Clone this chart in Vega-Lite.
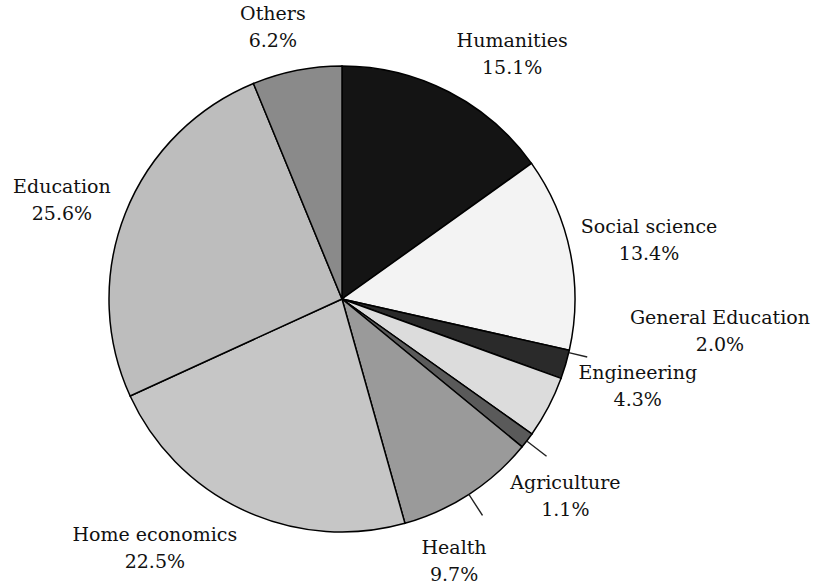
{
  "$schema": "https://vega.github.io/schema/vega-lite/v6.json",
  "autosize": "none",
  "width": 684,
  "height": 574,
  "padding": {"left": 0, "top": 12, "right": 135, "bottom": 0},
  "background": "white",
  "config": {"view": {"stroke": null}},
  "data": {
    "values": [
      {"subject": "Humanities", "share": 15.1},
      {"subject": "Social science", "share": 13.4},
      {"subject": "General Education", "share": 2.0},
      {"subject": "Engineering", "share": 4.3},
      {"subject": "Agriculture", "share": 1.1},
      {"subject": "Health", "share": 9.7},
      {"subject": "Home economics", "share": 22.5},
      {"subject": "Education", "share": 25.6},
      {"subject": "Others", "share": 6.2}
    ]
  },
  "transform": [
    {"window": [{"op": "row_number", "as": "rank"}]},
    {"window": [{"op": "sum", "field": "share", "as": "cum"}], "sort": [{"field": "rank"}], "frame": [null, 0]},
    {"joinaggregate": [{"op": "sum", "field": "share", "as": "total"}]},
    {"calculate": "(datum.cum - datum.share) / datum.total", "as": "start"},
    {"calculate": "datum.cum / datum.total", "as": "end"},
    {"calculate": "(datum.cum - datum.share / 2) / datum.total", "as": "mid"},
    {"calculate": "datum.mid + 0.0009", "as": "mid2"},
    {"calculate": "datum.subject + '\\n' + format(datum.share, '.1f') + '%'", "as": "label"}
  ],
  "encoding": {
    "theta": {"field": "mid", "type": "quantitative", "scale": {"domain": [0, 1], "range": [0, 6.283185307179586]}}
  },
  "layer": [
    {
      "mark": {"type": "arc", "outerRadius": 233, "stroke": "#000", "strokeWidth": 1.5},
      "encoding": {
        "theta": {"field": "start", "type": "quantitative"},
        "theta2": {"field": "end"},
        "color": {
          "field": "subject",
          "type": "nominal",
          "legend": null,
          "scale": {
            "domain": ["Humanities", "Social science", "General Education", "Engineering", "Agriculture", "Health", "Home economics", "Education", "Others"],
            "range": ["#141414", "#f3f3f3", "#2a2a2a", "#dcdcdc", "#5a5a5a", "#9a9a9a", "#c6c6c6", "#bdbdbd", "#8a8a8a"]
          }
        }
      }
    },
    {
      "transform": [{"filter": "datum.subject == 'Agriculture' || datum.subject == 'Health'"}],
      "mark": {"type": "arc", "innerRadius": 233, "outerRadius": 258, "fill": "#222"},
      "encoding": {"theta2": {"field": "mid2"}}
    },
    {
      "transform": [{"filter": "datum.subject == 'General Education'"}],
      "mark": {"type": "arc", "innerRadius": 233, "outerRadius": 252, "fill": "#222", "thetaOffset": -0.055, "theta2Offset": -0.055},
      "encoding": {"theta2": {"field": "mid2"}}
    },
    {
      "transform": [{"filter": "datum.subject == 'Humanities'"}],
      "mark": {"type": "text", "radius": 300, "dx": 33, "dy": 8.5, "font": "DejaVu Serif", "fontSize": 19, "lineBreak": "\n", "lineHeight": 27, "align": "center", "baseline": "middle", "fill": "#111"},
      "encoding": {"text": {"field": "label"}}
    },
    {
      "transform": [{"filter": "datum.subject == 'Social science'"}],
      "mark": {"type": "text", "radius": 300, "dx": 13, "dy": -12.5, "font": "DejaVu Serif", "fontSize": 19, "lineBreak": "\n", "lineHeight": 27, "align": "center", "baseline": "middle", "fill": "#111"},
      "encoding": {"text": {"field": "label"}}
    },
    {
      "transform": [{"filter": "datum.subject == 'General Education'"}],
      "mark": {"type": "text", "radius": 300, "dx": 90, "dy": -65.5, "font": "DejaVu Serif", "fontSize": 19, "lineBreak": "\n", "lineHeight": 27, "align": "center", "baseline": "middle", "fill": "#111"},
      "encoding": {"text": {"field": "label"}}
    },
    {
      "transform": [{"filter": "datum.subject == 'Engineering'"}],
      "mark": {"type": "text", "radius": 300, "dx": 30, "dy": -65.5, "font": "DejaVu Serif", "fontSize": 19, "lineBreak": "\n", "lineHeight": 27, "align": "center", "baseline": "middle", "fill": "#111"},
      "encoding": {"text": {"field": "label"}}
    },
    {
      "transform": [{"filter": "datum.subject == 'Agriculture'"}],
      "mark": {"type": "text", "radius": 300, "dx": -15, "dy": 1.5, "font": "DejaVu Serif", "fontSize": 19, "lineBreak": "\n", "lineHeight": 27, "align": "center", "baseline": "middle", "fill": "#111"},
      "encoding": {"text": {"field": "label"}}
    },
    {
      "transform": [{"filter": "datum.subject == 'Health'"}],
      "mark": {"type": "text", "radius": 300, "dx": -52, "dy": -2.5, "font": "DejaVu Serif", "fontSize": 19, "lineBreak": "\n", "lineHeight": 27, "align": "center", "baseline": "middle", "fill": "#111"},
      "encoding": {"text": {"field": "label"}}
    },
    {
      "transform": [{"filter": "datum.subject == 'Home economics'"}],
      "mark": {"type": "text", "radius": 300, "dx": -61, "dy": -36.5, "font": "DejaVu Serif", "fontSize": 19, "lineBreak": "\n", "lineHeight": 27, "align": "center", "baseline": "middle", "fill": "#111"},
      "encoding": {"text": {"field": "label"}}
    },
    {
      "transform": [{"filter": "datum.subject == 'Education'"}],
      "mark": {"type": "text", "radius": 300, "dx": -1, "dy": -1.5, "font": "DejaVu Serif", "fontSize": 19, "lineBreak": "\n", "lineHeight": 27, "align": "center", "baseline": "middle", "fill": "#111"},
      "encoding": {"text": {"field": "label"}}
    },
    {
      "transform": [{"filter": "datum.subject == 'Others'"}],
      "mark": {"type": "text", "radius": 300, "dx": -11, "dy": 9.5, "font": "DejaVu Serif", "fontSize": 19, "lineBreak": "\n", "lineHeight": 27, "align": "center", "baseline": "middle", "fill": "#111"},
      "encoding": {"text": {"field": "label"}}
    }
  ]
}
